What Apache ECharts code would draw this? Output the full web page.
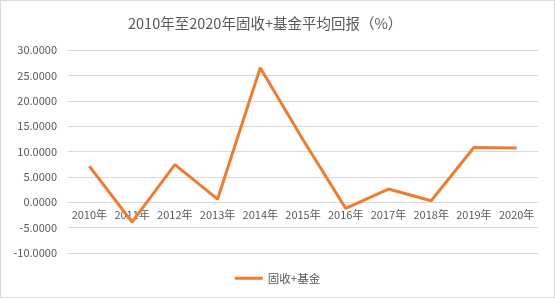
<!DOCTYPE html>
<html><head><meta charset="utf-8">
<script src="https://cdn.jsdelivr.net/npm/echarts@6/dist/echarts.min.js"></script>
<style>html,body{margin:0;padding:0;background:#fff}#c{width:555px;height:298px;box-sizing:border-box;border:1px solid #d9d9d9}</style>
</head><body><div id="c"></div>
<script>
var categories = ['2010年','2011年','2012年','2013年','2014年','2015年','2016年','2017年','2018年','2019年','2020年'];
var values = [7.1, -3.9, 7.4, 0.6, 26.5, 12.3, -1.2, 2.6, 0.3, 10.8, 10.7];
var seriesName = '固收+基金';
var titleText = '2010年至2020年固收+基金平均回报（%）';
var yMin = -10, yMax = 30;
var gridTop = 49, gridBottom = 44, H = 298;
var chart = echarts.init(document.getElementById('c'));
var font = '"Noto Sans CJK SC", "Noto Sans", sans-serif';
var plotH = H - gridTop - gridBottom;
var zeroOffset = -plotH * (0 - yMin) / (yMax - yMin);
chart.setOption({
  animation: false,
  title: {text: titleText, left: 122, top: 10, textStyle: {fontFamily: font, fontSize: 14.5, fontWeight: 'normal', color: '#595959'}},
  legend: {bottom: 8, left: 'center', itemWidth: 28, itemHeight: 3, icon: 'rect', itemGap: 4, textStyle: {fontFamily: font, fontSize: 11.5, color: '#595959'}, data: [seriesName]},
  grid: {left: 67, right: 16, top: gridTop, bottom: gridBottom},
  xAxis: {type: 'category', data: categories, boundaryGap: true, offset: zeroOffset,
    axisLine: {onZero: false, lineStyle: {color: '#d9d9d9'}}, axisTick: {show: false},
    axisLabel: {fontFamily: font, fontSize: 11, color: '#595959', margin: 8, interval: 0}},
  yAxis: {type: 'value', min: yMin, max: yMax, interval: 5,
    axisLine: {show: false}, axisTick: {show: false},
    splitLine: {lineStyle: {color: '#d9d9d9'}},
    axisLabel: {fontFamily: font, fontSize: 11, color: '#595959', margin: 11, formatter: function(v){return v.toFixed(4);}}},
  series: [{name: seriesName, type: 'line', data: values, symbol: 'none', z: 3, lineStyle: {color: '#ED7D31', width: 3}, itemStyle: {color: '#ED7D31'}}]
});
</script></body></html>
